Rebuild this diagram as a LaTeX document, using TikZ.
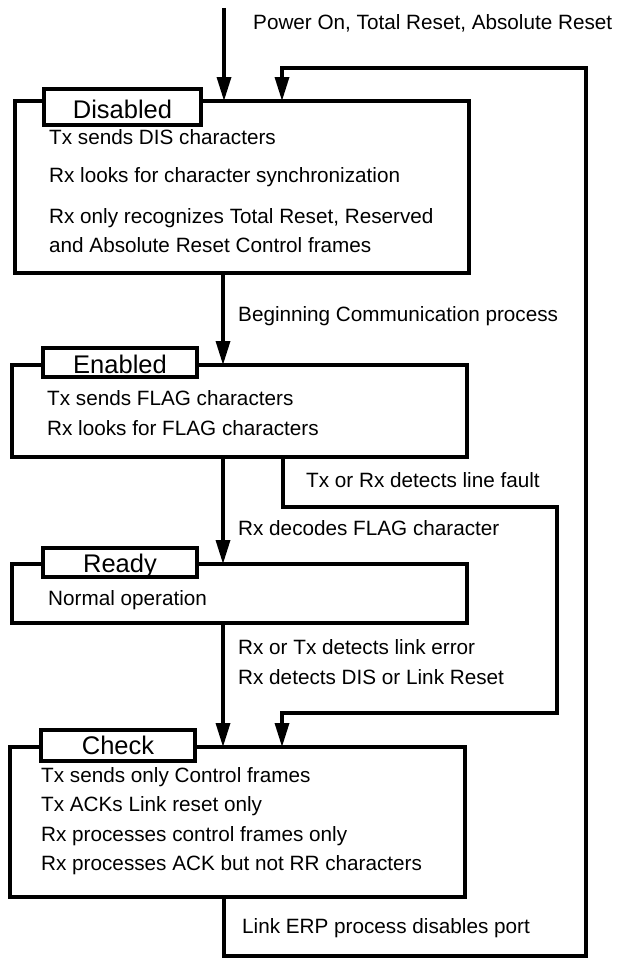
\documentclass[tikz,border=0pt]{standalone}
\usepackage{fontspec}
\setmainfont{Liberation Sans}
\usetikzlibrary{arrows.meta}

\tikzset{
  statebox/.style={draw, line width=3.3pt, fill=white, rectangle, inner sep=0pt,
                   outer sep=0pt, anchor=north west},
  tabbox/.style={draw, line width=3.3pt, fill=white, rectangle, inner sep=0pt,
                 outer sep=0pt, anchor=north west},
  tablabel/.style={font=\fontsize{25.5}{29}\selectfont, anchor=base, inner sep=0pt},
  body/.style={font=\fontsize{20.7}{24}\selectfont, anchor=base west, inner sep=0pt},
  conn/.style={line width=3.3pt},
  arr/.style={conn, -{Triangle[length=24pt,width=14pt]}},
}

\begin{document}
\begin{tikzpicture}[x=1pt,y=-1pt]
\useasboundingbox (0,0) rectangle (619,958);

% state boxes
\node[statebox, minimum width=454pt, minimum height=172pt] (dis) at (15,101) {};
\node[statebox, minimum width=455pt, minimum height=92pt]  (ena) at (12,365) {};
\node[statebox, minimum width=455pt, minimum height=59pt]  (rdy) at (12,564) {};
\node[statebox, minimum width=455pt, minimum height=150pt] (chk) at (10,747) {};

% guide coordinates for the connectors
\coordinate (pwr) at (224,8);
\coordinate (mainx) at (223,0);
\coordinate (lb) at (224,956);
\coordinate (lr) at (586,68);
\coordinate (lx) at (282,0);
\coordinate (fa) at (283,0);
\coordinate (fb) at (557,507);
\coordinate (fc) at (282,713);

% connectors
\draw[arr] (pwr) -- (pwr |- dis.north);
\draw[arr] (dis.south -| mainx) -- (ena.north -| mainx);
\draw[arr] (ena.south -| mainx) -- (rdy.north -| mainx);
\draw[arr] (rdy.south -| mainx) -- (chk.north -| mainx);
\draw[arr] (ena.south -| fa) |- (fb) |- (fc) -- (fc |- chk.north);
\draw[arr] (chk.south -| lb) |- (lr |- lb) -- (lr) -| (lx |- dis.north);

% tabs with state names
\node[tabbox, minimum width=157pt, minimum height=36pt] (tdis) at (44,89) {};
\node[tablabel] (ldis) at (122.5,118) {Disabled};
\node[tabbox, minimum width=154pt, minimum height=29pt] (tena) at (43,348) {};
\node[tablabel] (lena) at (120,373) {Enabled};
\node[tabbox, minimum width=154pt, minimum height=29pt] (trdy) at (43,548) {};
\node[tablabel] (lrdy) at (120,572) {Ready};
\node[tabbox, minimum width=154pt, minimum height=31pt] (tchk) at (41,730) {};
\node[tablabel] (lchk) at (118,754) {Check};

% state descriptions
\node[body] (d1) at (49,144) {Tx sends DIS characters};
\node[body] (d2) at (49,182) {Rx looks for character synchronization};
\node[body] (d3) at (49,223) {Rx only recognizes Total Reset, Reserved};
\node[body] (d4) at (49,252) {and Absolute Reset Control frames};

\node[body] (e1) at (47,405) {Tx sends FLAG characters};
\node[body] (e2) at (47,435) {Rx looks for FLAG characters};

\node[body] (r1) at (48,605) {Normal operation};

\node[body] (c1) at (41,782) {Tx sends only Control frames};
\node[body] (c2) at (41,811) {Tx ACKs Link reset only};
\node[body] (c3) at (41,841) {Rx processes control frames only};
\node[body] (c4) at (41,870) {Rx processes ACK but not RR characters};

% transition labels
\node[body] (t0) at (253,30) {Power On, Total Reset, Absolute Reset};
\node[body] (t1) at (238,321) {Beginning Communication process};
\node[body] (t2) at (306,487) {Tx or Rx detects line fault};
\node[body] (t3) at (238,535) {Rx decodes FLAG character};
\node[body] (t4) at (238,654) {Rx or Tx detects link error};
\node[body] (t5) at (238,684) {Rx detects DIS or Link Reset};
\node[body] (t6) at (242,933) {Link ERP process disables port};
\end{tikzpicture}
\end{document}
